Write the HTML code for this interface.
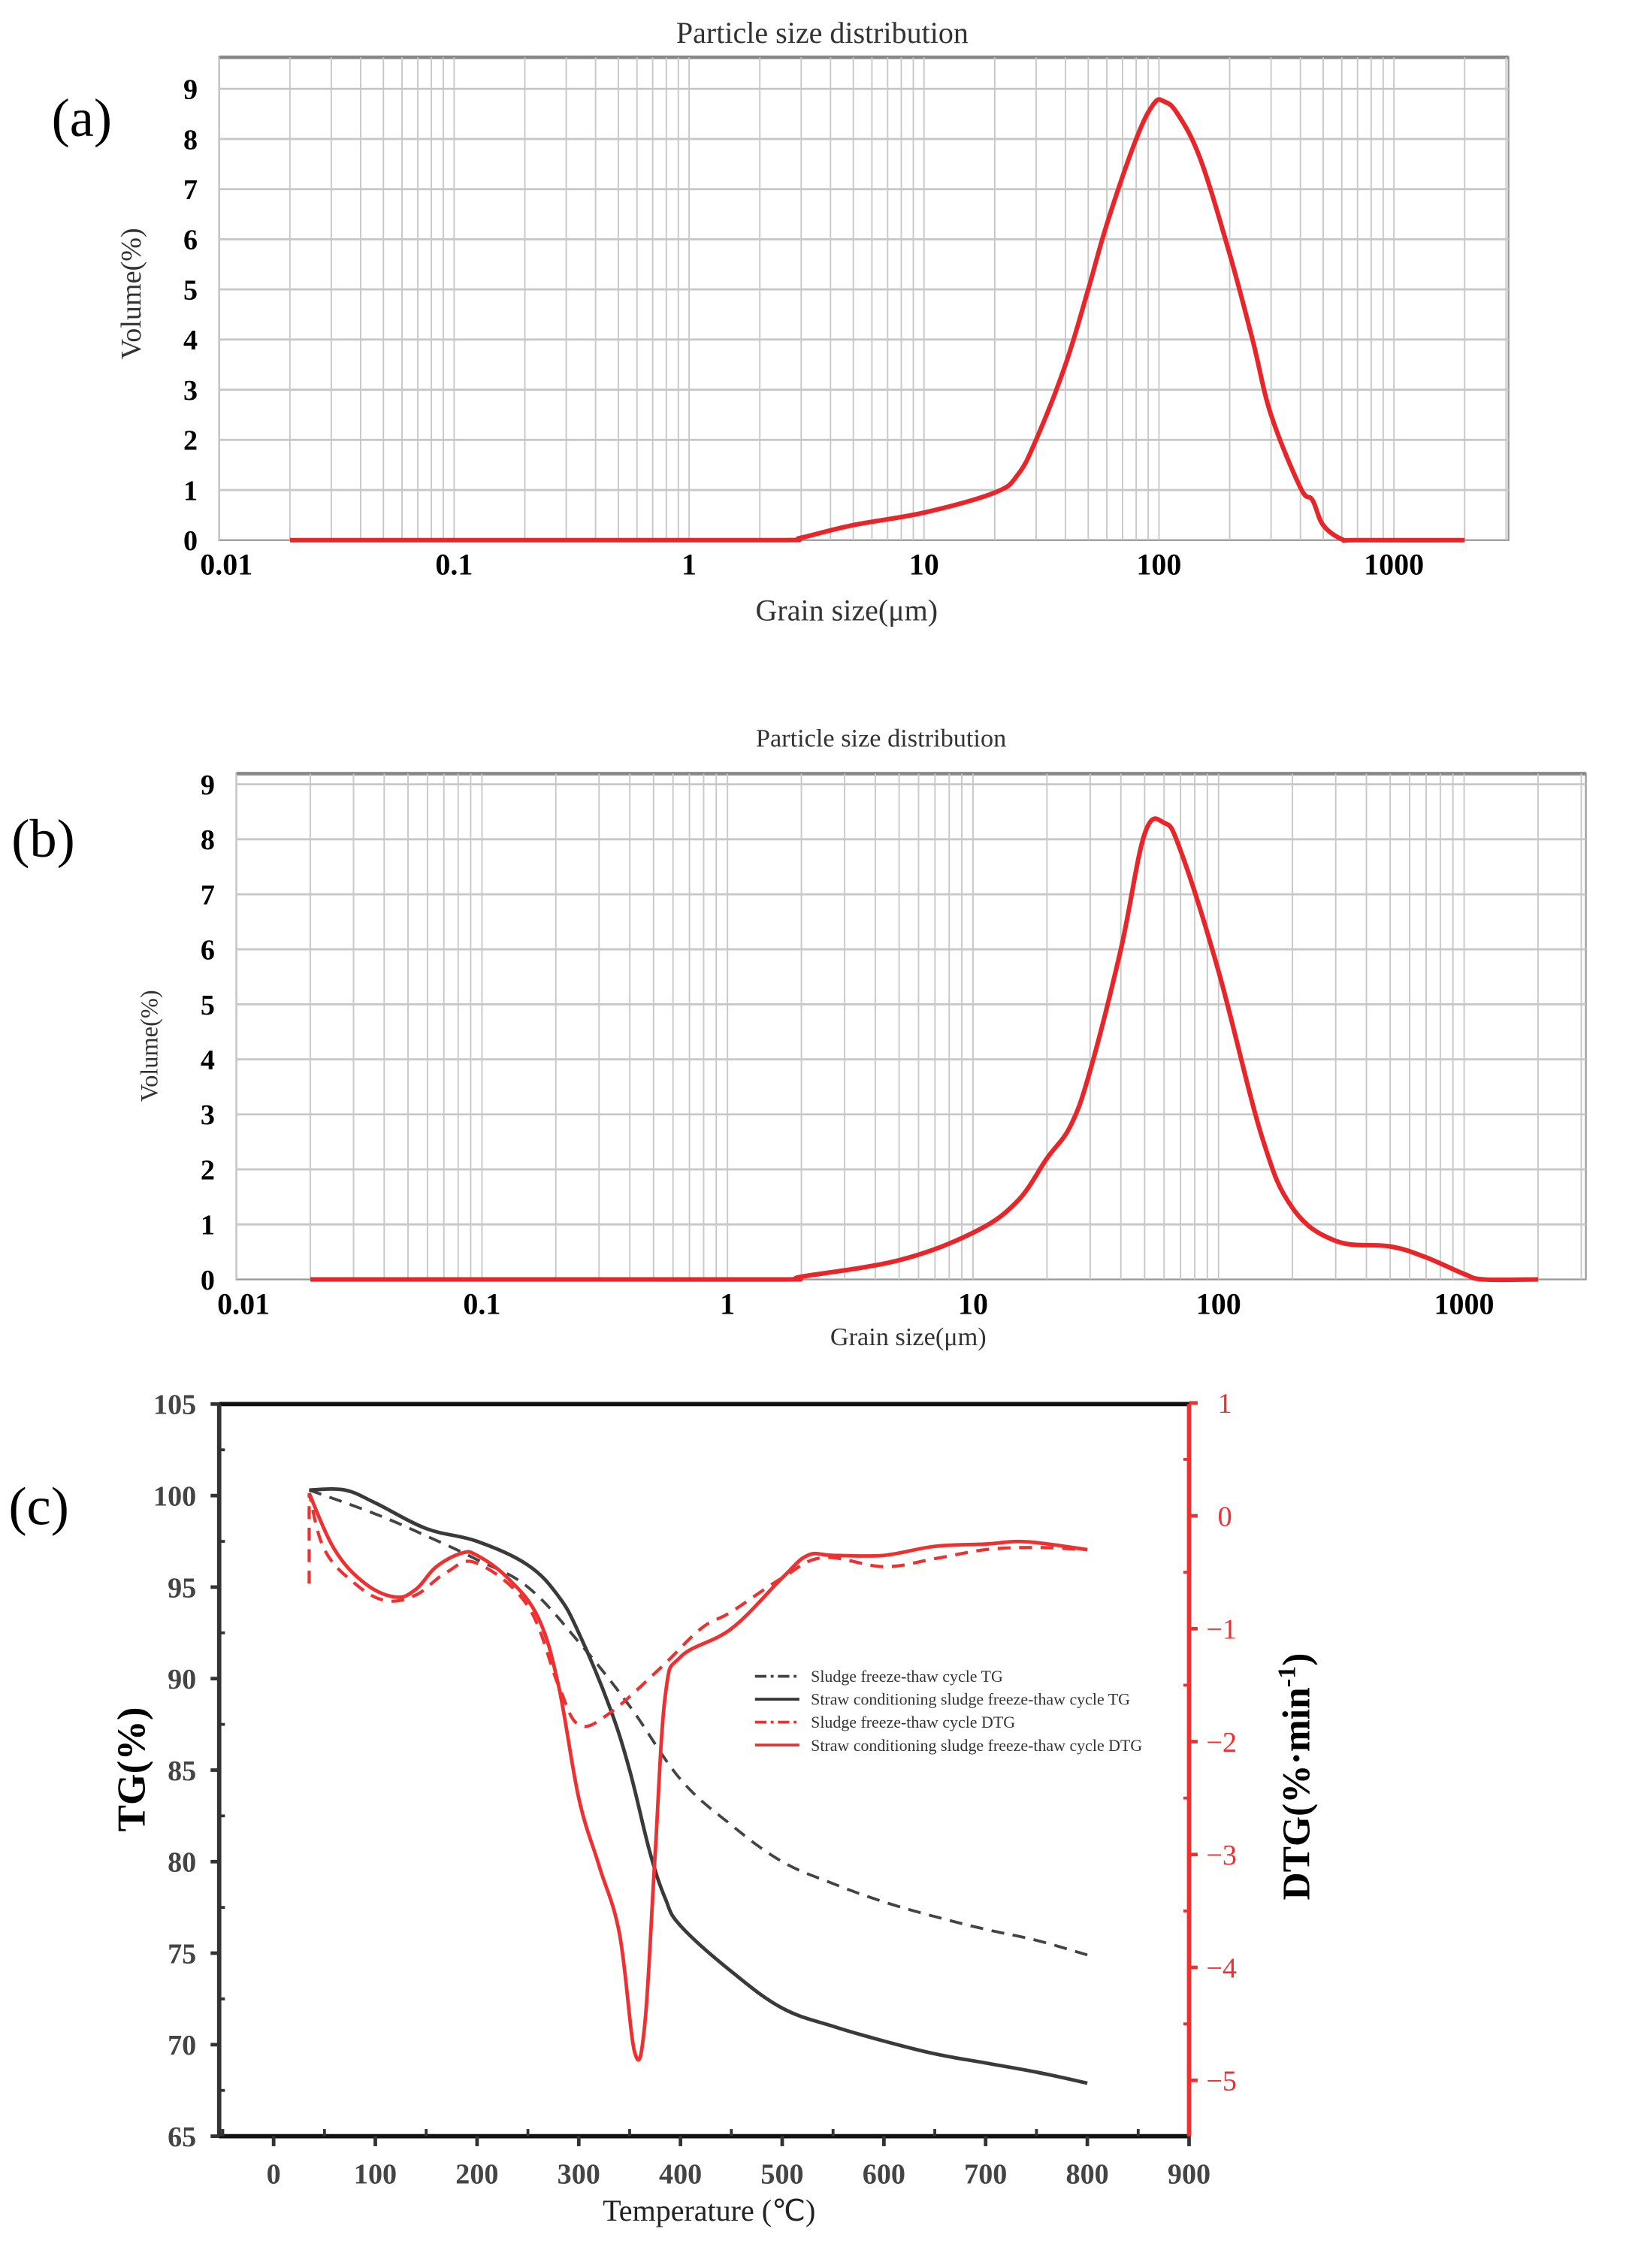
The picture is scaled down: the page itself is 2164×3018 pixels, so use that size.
<!DOCTYPE html>
<html><head><meta charset="utf-8">
<style>
html,body{margin:0;padding:0;background:#fff;}
svg{display:block;}
text{font-family:"Liberation Serif",serif;}
</style></head>
<body>
<svg id="fig" width="2164" height="3018" viewBox="0 0 1135 1583" preserveAspectRatio="none" xmlns="http://www.w3.org/2000/svg">
<rect x="0" y="0" width="1135" height="1583" fill="#fff"/>
<g id="pa"></g>
<g id="pb"></g>
<g id="pc"></g>
</svg>
<script>
// Panel (a) data
const aSizes = [0.02,0.5,2.5,3,5,10,20,25,30,40,50,60,80,95,105,120,150,200,250,300,400,450,500,600,700,2000];
const aVolumes = [0,0,0,0.05,0.3,0.55,0.95,1.3,2,3.5,5,6.3,8,8.7,8.75,8.5,7.6,5.7,4,2.5,1.05,0.8,0.3,0.02,0,0];
// Panel (b) data
const bSizes = [0.02,0.5,1.8,2,5,10,15,20,25,30,40,50,60,70,100,150,200,300,500,700,1000,1200,2000];
const bVolumes = [0,0,0,0.05,0.35,0.85,1.4,2.2,2.8,3.8,6,8.1,8.3,7.8,5.6,2.6,1.3,0.7,0.6,0.4,0.1,0,0];
const psdYTicks = [0,1,2,3,4,5,6,7,8,9];
const psdXTicks = [0.01,0.1,1,10,100,1000];
const psdXLabels = ["0.01","0.1","1","10","100","1000"];
// Panel (c) data
const tgTemps1 = [35,100,150,200,250,300,350,400,450,500,550,600,650,700,750,800];
const tgSludge = [100.3,99,97.8,96.5,95,92,88.5,84.5,82,80,78.8,77.8,77,76.3,75.7,74.9];
const tgTemps2 = [35,70,100,150,200,250,280,300,330,350,370,385,400,450,500,550,600,650,700,750,800];
const tgStraw = [100.3,100.3,99.6,98.2,97.5,96.2,94.5,92.5,88.5,85,80.5,78,76.5,74,72,71,70.2,69.5,69,68.5,67.9];
const dtgTemps1 = [35,35,50,80,110,140,170,200,250,280,300,330,380,420,450,500,540,600,650,700,750,800];
const dtgSludge = [-0.6,0.2,-0.3,-0.6,-0.75,-0.7,-0.5,-0.42,-0.8,-1.5,-1.85,-1.75,-1.35,-1.0,-0.85,-0.55,-0.37,-0.45,-0.38,-0.3,-0.28,-0.3];
const dtgTemps2 = [35,60,90,120,140,160,185,200,230,260,280,300,320,340,355,365,375,385,400,450,500,525,550,600,650,700,740,800];
const dtgStraw = [0.2,-0.3,-0.6,-0.72,-0.65,-0.45,-0.33,-0.35,-0.55,-0.9,-1.5,-2.5,-3.1,-3.7,-4.75,-4.5,-3.0,-1.6,-1.25,-1.0,-0.55,-0.35,-0.35,-0.35,-0.27,-0.25,-0.23,-0.3];
const tgTicks = [65,70,75,80,85,90,95,100,105];
const dtgTicks = [1,0,-1,-2,-3,-4,-5];
const tempTicks = [0,100,200,300,400,500,600,700,800,900];

const NS="http://www.w3.org/2000/svg";
function mk(parent,tag,attrs,txt){const e=document.createElementNS(NS,tag);for(const k in attrs)e.setAttribute(k,attrs[k]);if(txt!==undefined)e.textContent=txt;parent.appendChild(e);return e;}
function smoothPath(xs,ys,fx,fy,start){
  start=start||0;
  const P=xs.map((x,i)=>[fx(x),fy(ys[i])]);
  let d='M'+P[0][0].toFixed(1)+','+P[0][1].toFixed(1);
  for(let i=1;i<=start;i++)d+='L'+P[i][0].toFixed(1)+','+P[i][1].toFixed(1);
  const t=0.18;
  for(let i=start;i<P.length-1;i++){
    const p0=P[Math.max(start,i-1)],p1=P[i],p2=P[i+1],p3=P[Math.min(P.length-1,i+2)];
    const c1=[p1[0]+(p2[0]-p0[0])*t,p1[1]+(p2[1]-p0[1])*t];
    const c2=[p2[0]-(p3[0]-p1[0])*t,p2[1]-(p3[1]-p1[1])*t];
    d+='C'+c1[0].toFixed(1)+','+c1[1].toFixed(1)+' '+c2[0].toFixed(1)+','+c2[1].toFixed(1)+' '+p2[0].toFixed(1)+','+p2[1].toFixed(1);
  }
  return d;
}

function psd(g,o,sizes,vols,tag){
  const fx=v=>o.x0+(Math.log10(v)+2)*o.dec;
  const fy=v=>o.y0-v*o.unit;
  const frame=mk(g,'rect',{x:o.x0,y:o.top,width:o.x1-o.x0,height:o.y0-o.top,fill:'#fff',stroke:'#999','stroke-width':1.2});
  
  
  mk(g,'line',{x1:o.x0,y1:o.top,x2:o.x1,y2:o.top,stroke:'#888','stroke-width':2.5});
  for(let d=-2;d<=3;d++){for(let m=1;m<=9;m++){const v=m*Math.pow(10,d);if(v>3000)break;const x=fx(v);if(x>=o.x1)continue;
    const l=mk(g,'line',{x1:x,y1:o.top,x2:x,y2:o.y0,stroke:'#c8c8c8','stroke-width':1});
    
    }}
  psdYTicks.forEach(t=>{const y=fy(t);
    if(t>0){const l=mk(g,'line',{x1:o.x0,y1:y,x2:o.x1,y2:y,stroke:'#c8c8c8','stroke-width':1.5});
    
    }
    const tx=mk(g,'text',{x:o.x0-20,y:y+7,'font-size':20,'font-weight':'bold','text-anchor':'middle','font-family':'Liberation Sans Narrow, Liberation Sans, sans-serif'},String(t));
    
    });
  psdXTicks.forEach((t,i)=>{const tx=mk(g,'text',{x:fx(t)+(i==0?5:0),y:o.y0+24,'font-size':21,'font-weight':'bold','text-anchor':'middle','font-family':'Liberation Sans Narrow, Liberation Sans, sans-serif'},psdXLabels[i]);
    
    });
  const p=mk(g,'path',{d:smoothPath(sizes,vols,fx,fy),fill:'none',stroke:'#e8262a','stroke-width':3.2,'stroke-linejoin':'round'});
  
  
  const ti=mk(g,'text',{x:o.titleX,y:o.titleY,'font-size':o.tfs,'text-anchor':'middle',fill:'#333'},'Particle size distribution');
  
  
  const xl=mk(g,'text',{x:o.xlx,y:o.xly,'font-size':o.xfs,'text-anchor':'middle',fill:'#333'},'Grain size(μm)');
  
  
  const yl=mk(g,'text',{x:0,y:0,'font-size':o.yfs,'text-anchor':'middle',fill:'#333',transform:`translate(${o.ylx},${o.yly}) rotate(-90)`},'Volume(%)');
  
  
  const pl=mk(g,'text',{x:o.plx,y:o.ply,'font-size':38},tag);
  
  
}
psd(document.getElementById('pa'),{x0:153,x1:1053,top:40,y0:377,dec:164,unit:35,titleX:574,titleY:30,tfs:21,xlx:591,xly:433,xfs:21,ylx:98,yly:205,yfs:20,plx:36,ply:95},aSizes,aVolumes,'(a)');
psd(document.getElementById('pb'),{x0:165,x1:1107,top:540,y0:893,dec:171.4,unit:38.4,titleX:615,titleY:521,tfs:18,xlx:634,xly:939,xfs:18,ylx:110,yly:730,yfs:17,plx:8,ply:598},bSizes,bVolumes,'(b)');

// Panel c
(function(){
  const g=document.getElementById('pc');
  const X0=153,X1=830,T=980,B=1491;
  const fx=v=>191+v*0.71;
  const fyL=v=>T+(105-v)*12.775;
  const fyR=v=>1058-v*78.8;
  mk(g,'line',{x1:X0,y1:T,x2:X1,y2:T,stroke:'#111','stroke-width':3});
  mk(g,'line',{x1:X0,y1:B,x2:X1,y2:B,stroke:'#111','stroke-width':3});
  const la=mk(g,'line',{x1:X0,y1:T,x2:X0,y2:B,stroke:'#333','stroke-width':3});
  
  
  const ra=mk(g,'line',{x1:X1,y1:T,x2:X1,y2:B,stroke:'#ee3030','stroke-width':3});
  
  
  tgTicks.forEach(t=>{const y=fyL(t);mk(g,'line',{x1:X0-6,y1:y,x2:X0,y2:y,stroke:'#333','stroke-width':2.5});
    if(t<105){const ym=fyL(t+2.5);mk(g,'line',{x1:X0,y1:ym,x2:X0+4,y2:ym,stroke:'#333','stroke-width':2});}
    const tx=mk(g,'text',{x:X0-16,y:y+7,'font-size':20,'font-weight':'bold','text-anchor':'end',fill:'#444'},String(t));
    
    });
  dtgTicks.forEach(t=>{const y=fyR(t);mk(g,'line',{x1:X1,y1:y,x2:X1+6,y2:y,stroke:'#ee3030','stroke-width':2.5});
    const ym=fyR(t-0.5);if(ym<B)mk(g,'line',{x1:X1-4,y1:ym,x2:X1,y2:ym,stroke:'#ee3030','stroke-width':2});
    const tx=mk(g,'text',{x:X1+(t<0?12:20),y:y+7,'font-size':20,'text-anchor':'start',fill:'#ee3030'},t<0?'−'+(-t):String(t));
    
    });
  tempTicks.forEach(t=>{const x=fx(t);mk(g,'line',{x1:x,y1:B,x2:x,y2:B+7,stroke:'#333','stroke-width':2.5});
    const xm=fx(t-50);mk(g,'line',{x1:xm,y1:B-5,x2:xm,y2:B,stroke:'#333','stroke-width':2});
    const tx=mk(g,'text',{x:x,y:B+33,'font-size':20,'font-weight':'bold','text-anchor':'middle',fill:'#444'},String(t));
    
    });
  const s1=mk(g,'path',{d:smoothPath(tgTemps1,tgSludge,fx,fyL),fill:'none',stroke:'#444','stroke-width':2,'stroke-dasharray':'9,6'});
  
  
  const s2=mk(g,'path',{d:smoothPath(tgTemps2,tgStraw,fx,fyL),fill:'none',stroke:'#3a3a3a','stroke-width':2.5});
  
  
  const s3=mk(g,'path',{d:smoothPath(dtgTemps1,dtgSludge,fx,fyR,1),fill:'none',stroke:'#ee3030','stroke-width':2.2,'stroke-dasharray':'9,6'});
  
  
  const s4=mk(g,'path',{d:smoothPath(dtgTemps2,dtgStraw,fx,fyR),fill:'none',stroke:'#ee3030','stroke-width':2.5});
  
  
  const leg=[['Sludge freeze-thaw cycle TG','#444','8,3,2,3'],['Straw conditioning sludge freeze-thaw cycle TG','#333',''],['Sludge freeze-thaw cycle DTG','#ee3030','8,3,2,3'],['Straw conditioning sludge freeze-thaw cycle DTG','#ee3030','']];
  leg.forEach((l,i)=>{const y=1170+i*16;
    mk(g,'line',{x1:527,y1:y,x2:558,y2:y,stroke:l[1],'stroke-width':2,'stroke-dasharray':l[2]});
    const tx=mk(g,'text',{x:566,y:y+4,'font-size':11.5,fill:'#333'},l[0]);
    
    });
  const yl=mk(g,'text',{x:0,y:0,'font-size':28,'font-weight':'bold','text-anchor':'middle',transform:'translate(101,1235) rotate(-90)'},'TG(%)');
  
  
  const yr=mk(g,'text',{x:0,y:0,'font-size':27,'font-weight':'bold','text-anchor':'middle',transform:'translate(914,1240) rotate(-90)'});
  yr.innerHTML='DTG(%·min<tspan dy="-10" font-size="18">-1</tspan><tspan dy="10">)</tspan>';
  
  
  const xt=mk(g,'text',{x:495,y:1550,'font-size':21,'text-anchor':'middle',fill:'#222'},'Temperature (℃)');
  
  
  const pl=mk(g,'text',{x:6,y:1064,'font-size':38},'(c)');
  
  
})();
</script>
</body></html>
